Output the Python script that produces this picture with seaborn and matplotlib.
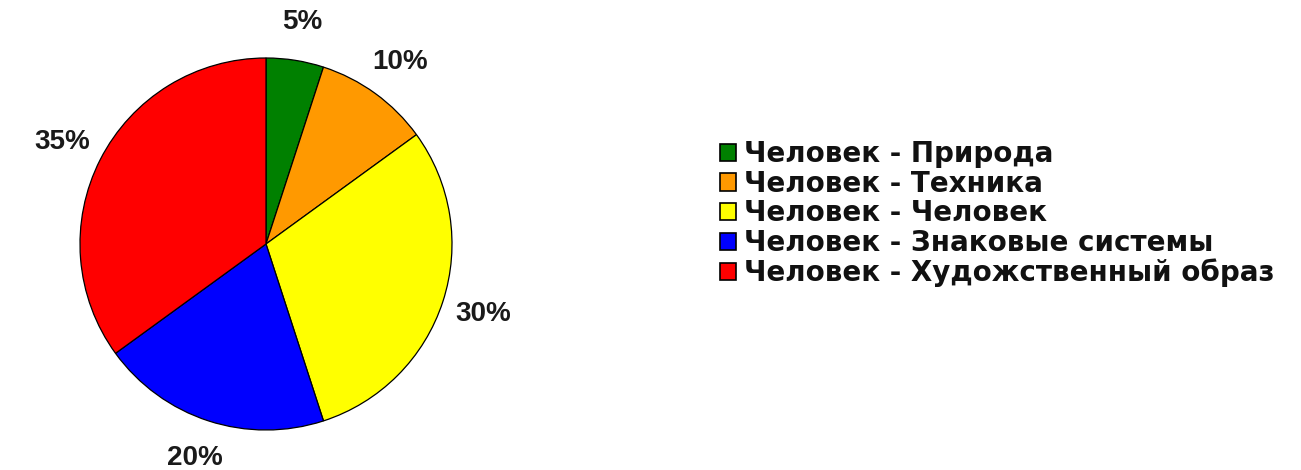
import matplotlib
matplotlib.use("Agg")
import matplotlib.pyplot as plt
import seaborn as sns
import numpy as np

categories = ["Человек - Природа", "Человек - Техника", "Человек - Человек",
              "Человек - Знаковые системы", "Человек - Художственный образ"]
values = [5, 10, 30, 20, 35]
pct_labels = ["5%", "10%", "30%", "20%", "35%"]
colors = ["#008000", "#FF9900", "#FFFF00", "#0000FF", "#FF0000"]

sns.set_theme(style="white")
plt.rcParams['font.family'] = ['Liberation Sans', 'DejaVu Sans']

W, H = 1301, 470
fig = plt.figure(figsize=(W / 100, H / 100), dpi=100)
fig.patch.set_facecolor("white")

R = 186
cx, cy = 266, H - 244
lim = 1.4
size = 2 * lim * R
ax = fig.add_axes([(cx - size / 2) / W, (cy - size / 2) / H, size / W, size / H])

wedges, _ = ax.pie(values, colors=colors, startangle=90, counterclock=False,
                   wedgeprops=dict(edgecolor="black", linewidth=0.9))
for w, lab in zip(wedges, pct_labels):
    ang = np.deg2rad((w.theta1 + w.theta2) / 2)
    ax.text(1.23 * np.cos(ang), 1.21 * np.sin(ang), lab, ha="center", va="center",
            fontsize=20, fontweight="bold", color="#1a1a1a")
ax.set_xlim(-lim, lim)
ax.set_ylim(-lim, lim)
ax.axis("off")

leg = fig.legend(wedges, categories, loc="upper left",
                 bbox_to_anchor=(720 / W, 1 - 140 / H), frameon=False,
                 prop=dict(family="DejaVu Sans", weight="bold", size=20),
                 handlelength=0.58, handleheight=0.58,
                 handletextpad=0.3, labelspacing=0.06, borderpad=0, borderaxespad=0)
for t in leg.get_texts():
    t.set_color("#111111")
for h in leg.legend_handles:
    h.set_edgecolor("black")
    h.set_linewidth(1.2)

fig.savefig("out.png", dpi=100, facecolor="white")
